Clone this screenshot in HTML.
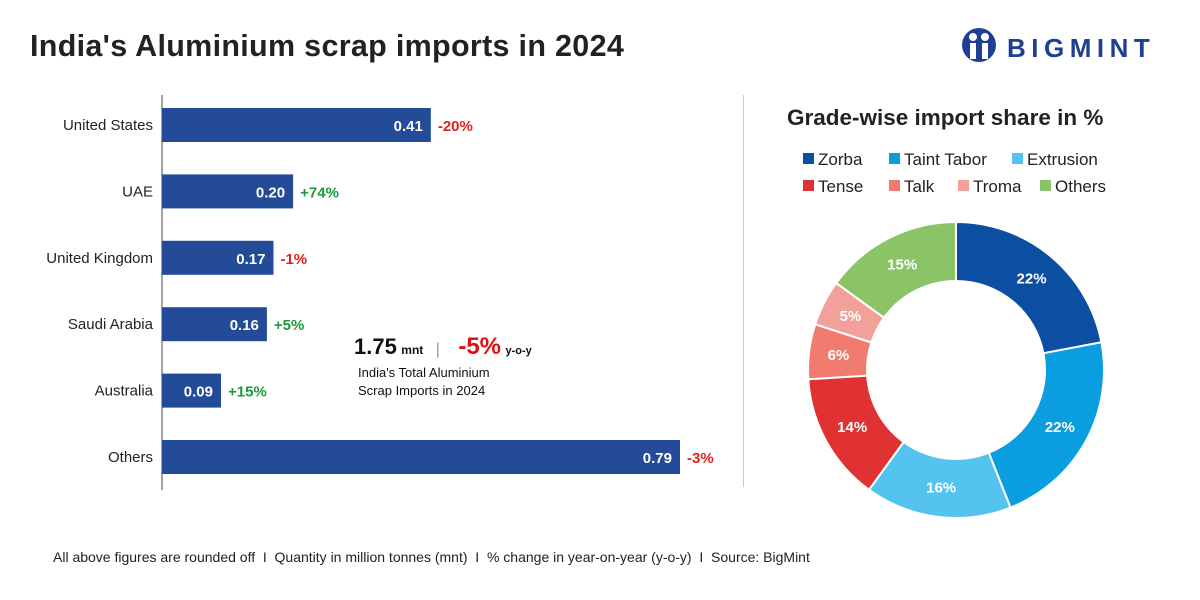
<!DOCTYPE html>
<html><head><meta charset="utf-8"><style>
body{margin:0;width:1200px;height:600px;background:#fff;font-family:"Liberation Sans",Arial,sans-serif;overflow:hidden;position:relative}
.abs{position:absolute}
</style></head><body>
<div class="abs" style="left:30px;top:29px;font-size:30.5px;font-weight:bold;color:#222;letter-spacing:0.3px">India's Aluminium scrap imports in 2024</div>
<div class="abs" style="left:960px;top:26px;width:210px;height:44px">
<svg width="40" height="44" viewBox="0 0 40 44" style="position:absolute;left:0;top:0"><circle cx="19" cy="19" r="17" fill="#1f3f95"/><circle cx="13" cy="11" r="4" fill="#fff"/><circle cx="25" cy="11" r="4" fill="#fff"/><rect x="10" y="17" width="6" height="16" fill="#fff"/><rect x="22" y="17" width="6" height="16" fill="#fff"/></svg>
<span style="position:absolute;left:47px;top:7px;font-size:26px;font-weight:bold;color:#1f3f95;letter-spacing:5.5px">BIGMINT</span></div>
<div class="abs" style="left:743px;top:95px;width:1px;height:392px;background:#ccc"></div>
<svg class="abs" style="left:0;top:0" width="1200" height="600" id="svg"></svg>
<div class="abs" style="left:354px;top:333px;color:#111">
<span style="font-size:22px;font-weight:bold">1.75</span> <span style="font-size:12px;font-weight:bold">mnt</span>
<span style="color:#999;margin:0 14px 0 8px">|</span>
<span style="font-size:24px;font-weight:bold;color:#e01010">-5%</span> <span style="font-size:11px;font-weight:bold">y-o-y</span>
<div style="font-size:13px;line-height:18px;margin-left:4px;margin-top:3px">India's Total Aluminium<br>Scrap Imports in 2024</div></div>
<div class="abs" style="left:787px;top:105px;font-size:22.5px;font-weight:bold;color:#222">Grade-wise import share in %</div>
<div class="abs" style="left:53px;top:549px;font-size:14px;color:#222">All above figures are rounded off &nbsp;I&nbsp; Quantity in million tonnes (mnt) &nbsp;I&nbsp; % change in year-on-year (y-o-y) &nbsp;I&nbsp; Source: BigMint</div>
<script>
const countries=["United States","UAE","United Kingdom","Saudi Arabia","Australia","Others"];
const volumes=[0.41,0.20,0.17,0.16,0.09,0.79];
const changes=[-20,74,-1,5,15,-3];
const grades=["Zorba","Taint Tabor","Extrusion","Tense","Talk","Troma","Others"];
const shares=[22,22,16,14,6,5,15];
const colors=["#0b4ea2","#0a9ee0","#55c3f0","#e03232","#f27b70","#f2a19a","#8bc467"];
const NS="http://www.w3.org/2000/svg",svg=document.getElementById('svg');
function mk(t,a,txt){const e=document.createElementNS(NS,t);for(const k in a)e.setAttribute(k,a[k]);if(txt!=null)e.textContent=txt;svg.appendChild(e);return e;}
const x0=162,xs=v=>x0+v*655.7,yc=i=>125+i*66.4;
let ax=mk('line',{x1:x0,x2:x0,y1:95,y2:490,stroke:'#444','stroke-width':1});

countries.forEach((c,i)=>{
 const y=yc(i);
 let l=mk('text',{x:153,y:y+5,'text-anchor':'end','font-size':15,fill:'#222'},c);
 
 let b=mk('rect',{x:x0,y:y-17,width:xs(volumes[i])-x0,height:34,fill:'#234b98'});
 
 let v=mk('text',{x:xs(volumes[i])-8,y:y+6,'text-anchor':'end','font-size':15,'font-weight':'bold',fill:'#fff'},volumes[i].toFixed(2));
 
 let ch=mk('text',{x:xs(volumes[i])+7,y:y+6,'font-size':15,'font-weight':'bold',fill:changes[i]<0?'#e02020':'#1a9a3a'},(changes[i]>0?'+':'')+changes[i]+'%');
 
});
const cx=956,cy=370,R=148,r=89;let a=0;const tot=shares.reduce((s,v)=>s+v,0);
shares.forEach((s,i)=>{
 const a1=a+s/tot*2*Math.PI,p=(ang,rad)=>[cx+rad*Math.sin(ang),cy-rad*Math.cos(ang)];
 const [x1,y1]=p(a,R),[x2,y2]=p(a1,R),[x3,y3]=p(a1,r),[x4,y4]=p(a,r),lg=a1-a>Math.PI?1:0;
 let sl=mk('path',{d:`M${x1},${y1}A${R},${R} 0 ${lg} 1 ${x2},${y2}L${x3},${y3}A${r},${r} 0 ${lg} 0 ${x4},${y4}Z`,fill:colors[i],stroke:'#fff','stroke-width':2});
 
 const [lx,ly]=p((a+a1)/2,(R+r)/2);
 let t=mk('text',{x:lx,y:ly+5,'text-anchor':'middle','font-size':15,'font-weight':'bold',fill:'#fff'},s+'%');
 
 a=a1;
});
const lpos=[[803,159],[889,159],[1012,159],[803,186],[889,186],[958,186],[1040,186]];
grades.forEach((g,i)=>{
 const [x,y]=lpos[i];
 let e=mk('rect',{x:x,y:y-6,width:11,height:11,fill:colors[i]});
 
 let t=mk('text',{x:x+15,y:y+6,'font-size':17,fill:'#222'},g);
 
});
</script>
</body></html>
